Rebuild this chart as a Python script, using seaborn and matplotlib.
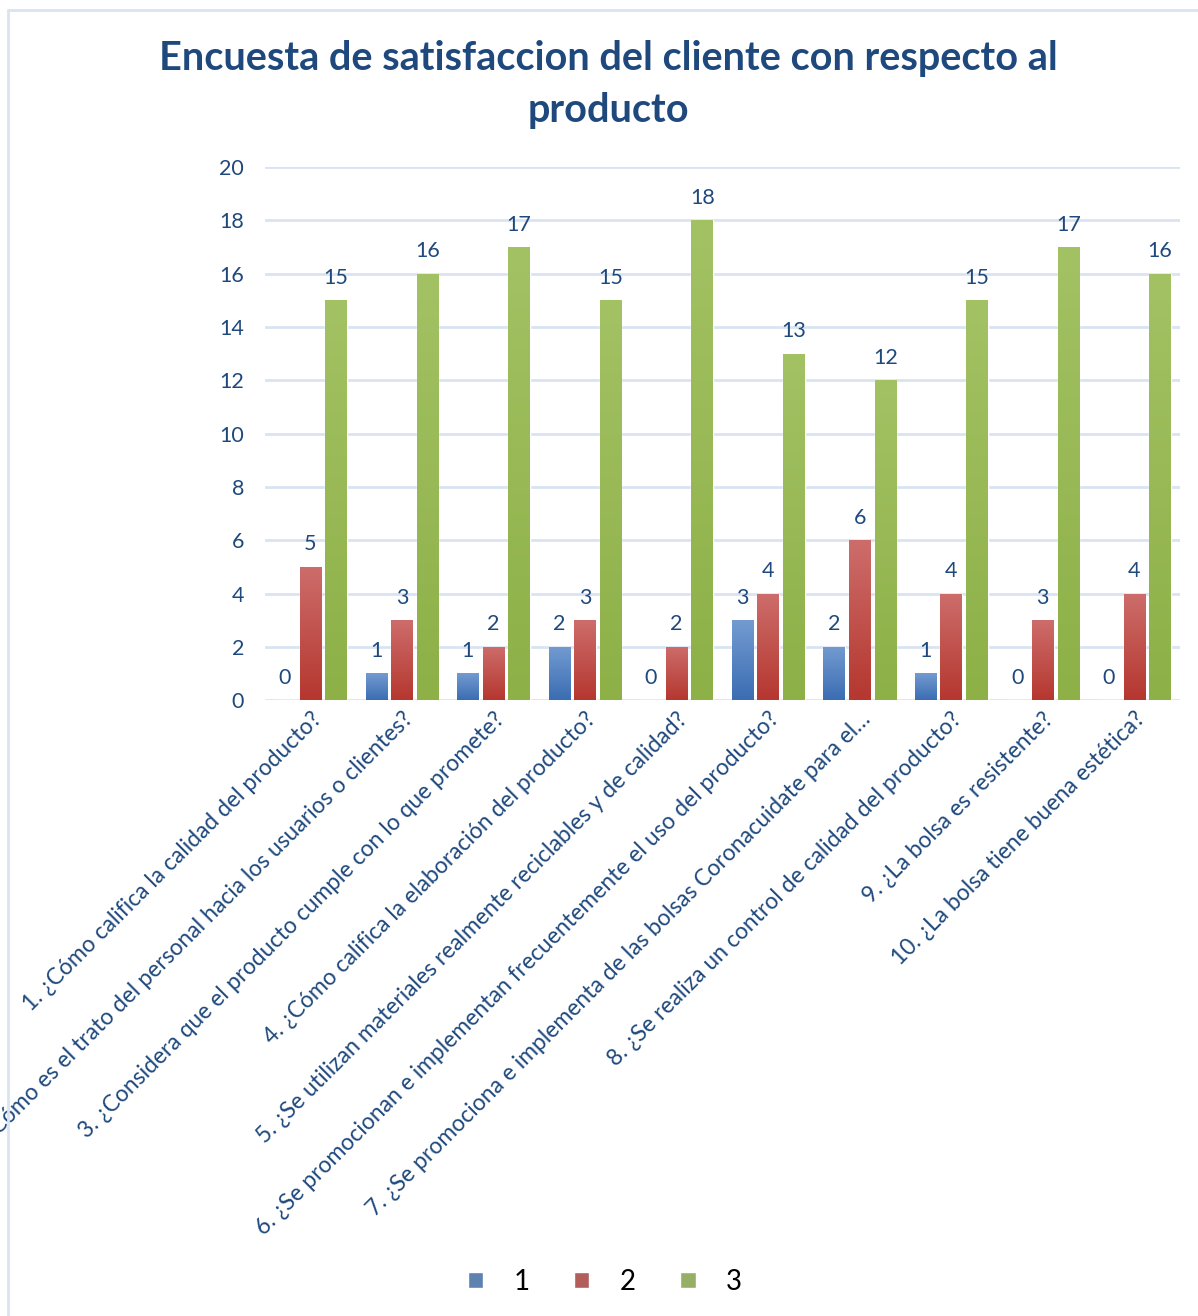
import numpy as np
import pandas as pd
import matplotlib
matplotlib.use("Agg")
import matplotlib.pyplot as plt
from matplotlib.colors import LinearSegmentedColormap
from matplotlib.lines import Line2D
import seaborn as sns

# ---- data ----
categories = [
    "1. ¿Cómo califica la calidad del producto?",
    "2. ¿Cómo es el trato del personal hacia los usuarios o clientes?",
    "3. ¿Considera que el producto cumple con lo que promete?",
    "4. ¿Cómo califica la elaboración del producto?",
    "5. ¿Se utilizan materiales realmente reciclables y de calidad?",
    "6. ¿Se promocionan e implementan frecuentemente el uso del producto?",
    "7. ¿Se promociona e implementa de las bolsas Coronacuidate para el…",
    "8. ¿Se realiza un control de calidad del producto?",
    "9. ¿La bolsa es resistente?",
    "10. ¿La bolsa tiene buena estética?",
]
series_names = ["1", "2", "3"]
values_1 = [0, 1, 1, 2, 0, 3, 2, 1, 0, 0]
values_2 = [5, 3, 2, 3, 2, 4, 6, 4, 3, 4]
values_3 = [15, 16, 17, 15, 18, 13, 12, 15, 17, 16]
y_ticks = [0, 2, 4, 6, 8, 10, 12, 14, 16, 18, 20]
title = "Encuesta de satisfaccion del cliente con respecto al\nproducto"

df = pd.DataFrame({
    "pregunta": categories * 3,
    "serie": [series_names[0]] * 10 + [series_names[1]] * 10 + [series_names[2]] * 10,
    "valor": values_1 + values_2 + values_3,
})

# ---- style ----
sns.set_theme(style="white")
plt.rcParams['font.family'] = ['Lato', 'DejaVu Sans']
TXT = "#1F497D"
GRID = "#D9E3F2"
base_colors = {"1": "#4F81BD", "2": "#C0504D", "3": "#9BBB59"}
grad = {
    "1": ("#739BD0", "#3B6DB3"),
    "2": ("#CD6D6B", "#B5372F"),
    "3": ("#A3C264", "#8DB047"),
}

fig = plt.figure(figsize=(11.98, 13.16), dpi=100)
ax = fig.add_axes([0.221, 0.468, 0.764, 0.405])

sns.barplot(data=df, x="pregunta", y="valor", hue="serie", palette=base_colors,
            width=0.84, gap=0.16, ax=ax, errorbar=None, legend=True)

ax.set_ylim(0, 20)
ax.set_xlim(-0.5, 9.5)
ax.set_yticks(y_ticks)
ax.yaxis.grid(True, color=GRID, linewidth=2)
ax.set_axisbelow(True)
for s in ax.spines.values():
    s.set_visible(False)
ax.set_xlabel("")
ax.set_ylabel("")
ax.tick_params(axis="both", length=0, colors=TXT)
ax.tick_params(axis="y", labelsize=15.5, pad=15)
ax.set_xticks(range(len(categories)))
ax.set_xticklabels(categories, rotation=45, ha="right", rotation_mode="anchor",
                   fontsize=16.5, color=TXT)
ax.tick_params(axis="x", pad=6)

# gradient fill for bars
for cont, name in zip(ax.containers, series_names):
    cmap = LinearSegmentedColormap.from_list("g" + name, [grad[name][1], grad[name][0]])
    for p in cont.patches:
        h = p.get_height()
        if h <= 0:
            continue
        x0 = p.get_x(); w = p.get_width()
        g = np.linspace(0, 1, 256).reshape(-1, 1)
        im = ax.imshow(g, cmap=cmap, origin="lower", aspect="auto",
                       extent=[x0, x0 + w, 0, h], zorder=p.get_zorder() + 0.1)
        im.set_clip_path(p)
    ax.bar_label(cont, labels=[str(int(v)) for v in cont.datavalues],
                 padding=9, fontsize=15.5, color=TXT)

ax.set_ylim(0, 20)
ax.set_xlim(-0.5, 9.5)

# legend
handles, labels = ax.get_legend_handles_labels()
ax.get_legend().remove()
leg = fig.legend(handles, labels, loc="center", bbox_to_anchor=(0.505, 0.026), ncol=3,
                 frameon=False, fontsize=20, handlelength=0.55, handleheight=0.55,
                 handletextpad=1.1, columnspacing=1.6)
for t in leg.get_texts():
    t.set_color("black")

# title
fig.text(0.508, 0.936, title, ha="center", va="center", fontsize=28.5,
         fontweight="bold", color=TXT, linespacing=1.5)

# chart area border (top and left edges visible)
fig.add_artist(Line2D([8 / 1198, 1.0], [1 - 10 / 1316, 1 - 10 / 1316],
                      transform=fig.transFigure, color=GRID, linewidth=2))
fig.add_artist(Line2D([8 / 1198, 8 / 1198], [0, 1 - 10 / 1316],
                      transform=fig.transFigure, color=GRID, linewidth=2))

fig.savefig("out.png", dpi=100, facecolor="white")
